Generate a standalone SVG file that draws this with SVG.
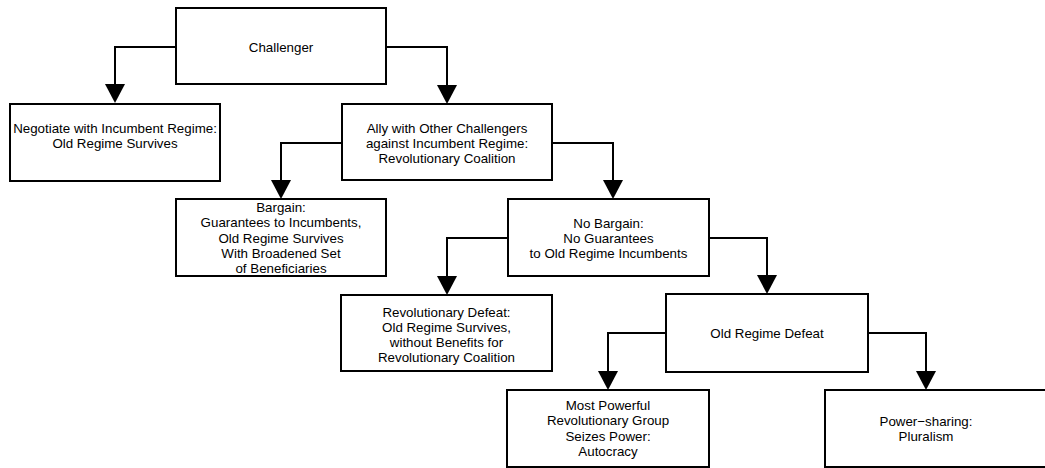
<svg xmlns="http://www.w3.org/2000/svg" width="1045" height="468" viewBox="0 0 1045 468">
<style>
.box{fill:#fff;stroke:#000;stroke-width:2}
.c{fill:none;stroke:#000;stroke-width:2}
.ah{fill:#000}
text{font-family:"Liberation Sans",Arial,sans-serif;font-size:13.33px;fill:#000;text-anchor:middle}
</style>
<rect width="1045" height="468" fill="#fff"/>
<g id="connectors">
<path class="c" d="M176,47 H115 V86"/>
<polygon class="ah" points="105,84 125,84 115,103"/>
<path class="c" d="M386,47 H447 V86"/>
<polygon class="ah" points="437,85 457,85 447,104"/>
<path class="c" d="M342,143 H281 V182"/>
<polygon class="ah" points="271,180 291,180 281,199"/>
<path class="c" d="M552,143 H613 V182"/>
<polygon class="ah" points="603,180 623,180 613,199"/>
<path class="c" d="M508,238 H447 V278"/>
<polygon class="ah" points="437,276 457,276 447,295"/>
<path class="c" d="M709,238 H767 V277"/>
<polygon class="ah" points="757,275 777,275 767,294"/>
<path class="c" d="M666,333 H608 V373"/>
<polygon class="ah" points="598,371 618,371 608,390"/>
<path class="c" d="M868,333 H926 V373"/>
<polygon class="ah" points="916,371 936,371 926,390"/>
</g>
<g id="challenger">
<rect class="box" x="176" y="8" width="210" height="76"/>
<text x="281" y="51.5">Challenger</text>
</g>
<g id="negotiate">
<rect class="box" x="10" y="104" width="210" height="77"/>
<text x="115" y="132.5">Negotiate with Incumbent Regime:</text>
<text x="115" y="147.5">Old Regime Survives</text>
</g>
<g id="ally">
<rect class="box" x="342" y="104" width="210" height="76"/>
<text x="447" y="132.5">Ally with Other Challengers</text>
<text x="447" y="147.5">against Incumbent Regime:</text>
<text x="447" y="162.5">Revolutionary Coalition</text>
</g>
<g id="bargain">
<rect class="box" x="176" y="199" width="210" height="77"/>
<text x="281" y="212">Bargain:</text>
<text x="281" y="227.3">Guarantees to Incumbents,</text>
<text x="281" y="242.6">Old Regime Survives</text>
<text x="281" y="257.9">With Broadened Set</text>
<text x="281" y="273.2">of Beneficiaries</text>
</g>
<g id="nobargain">
<rect class="box" x="508" y="199" width="201" height="77"/>
<text x="608.5" y="228">No Bargain:</text>
<text x="608.5" y="243">No Guarantees</text>
<text x="608.5" y="258">to Old Regime Incumbents</text>
</g>
<g id="revdefeat">
<rect class="box" x="341" y="295" width="211" height="76"/>
<text x="446.5" y="316.5">Revolutionary Defeat:</text>
<text x="446.5" y="331.5">Old Regime Survives,</text>
<text x="446.5" y="346.5">without Benefits for</text>
<text x="446.5" y="361.5">Revolutionary Coalition</text>
</g>
<g id="oldregimedefeat">
<rect class="box" x="666" y="294" width="202" height="78"/>
<text x="767" y="338">Old Regime Defeat</text>
</g>
<g id="autocracy">
<rect class="box" x="507" y="390" width="202" height="77"/>
<text x="608" y="409.7">Most Powerful</text>
<text x="608" y="425.2">Revolutionary Group</text>
<text x="608" y="440.7">Seizes Power:</text>
<text x="608" y="456.2">Autocracy</text>
</g>
<g id="pluralism">
<rect class="box" x="825" y="390" width="225" height="77"/>
<text x="926" y="425.7">Power−sharing:</text>
<text x="926" y="441.2">Pluralism</text>
</g>
</svg>
